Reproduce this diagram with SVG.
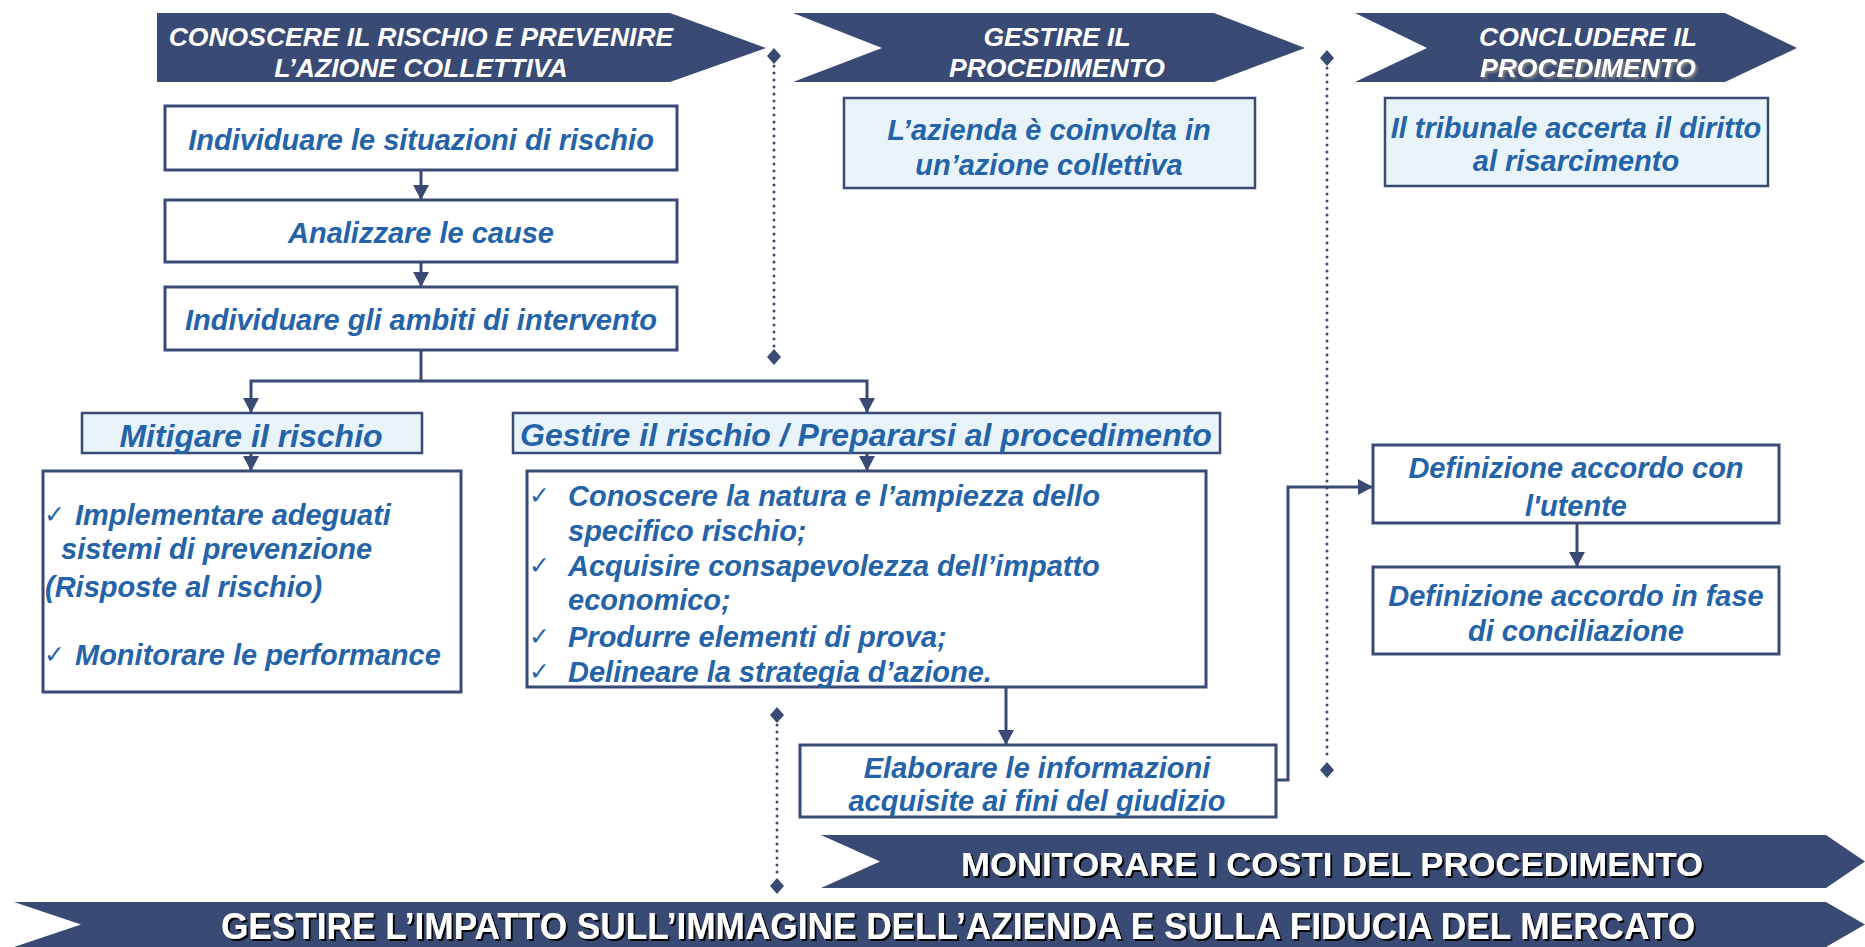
<svg xmlns="http://www.w3.org/2000/svg" width="1865" height="947" viewBox="0 0 1865 947">
<defs>
<style>
.box{fill:#ffffff;stroke:#394A74;stroke-width:3}
.lbox{fill:#E8F4FA;stroke:#394A74;stroke-width:2.5}
.t{font-family:"Liberation Sans",Arial,sans-serif;font-weight:bold;font-style:italic;font-size:29px;fill:#2563A8}
.m{text-anchor:middle}
.h{font-size:32px}
.ck{font-family:"DejaVu Sans",sans-serif;font-size:25px;fill:#2563A8}
.chev{fill:#394A74}
.ct{font-family:"Liberation Sans",Arial,sans-serif;font-weight:bold;font-style:italic;font-size:26.5px;fill:#ffffff;text-anchor:middle}
.bt{font-family:"Liberation Sans",Arial,sans-serif;font-weight:bold;fill:#ffffff;text-anchor:middle}
.conn{stroke:#394A74;stroke-width:3;fill:none}
.dot{stroke:#394A74;stroke-width:3;stroke-dasharray:0 7;stroke-linecap:round;fill:none}
.dia{fill:#394A74}
</style>
<marker id="ah" markerUnits="userSpaceOnUse" markerWidth="16" markerHeight="16" refX="15" refY="8" orient="auto">
<path d="M0,0 L15,8 L0,16 Z" fill="#394A74"/>
</marker>
<filter id="sh" x="-5%" y="-30%" width="110%" height="160%">
<feDropShadow dx="2" dy="2" stdDeviation="0" flood-color="#000000" flood-opacity="1"/>
</filter>
<filter id="sh2" x="-5%" y="-30%" width="110%" height="160%">
<feDropShadow dx="2" dy="2" stdDeviation="1" flood-color="#7f7f7f" flood-opacity="1"/>
</filter>
</defs>

<g id="phase1">
<polygon class="chev" points="157,13 670,13 766,48 670,82 157,82"/>
<text class="ct" x="421" y="46">CONOSCERE IL RISCHIO E PREVENIRE</text>
<text class="ct" x="421" y="77">L’AZIONE COLLETTIVA</text>
</g>
<g id="phase2">
<polygon class="chev" points="793,13 1214,13 1305,48 1214,82 793,82 882,48"/>
<text class="ct" x="1057" y="46">GESTIRE IL</text>
<text class="ct" x="1057" y="77">PROCEDIMENTO</text>
</g>
<g id="phase3">
<polygon class="chev" points="1355,13 1725,13 1797,48 1725,82 1355,82 1427,48"/>
<text class="ct" x="1588" y="46">CONCLUDERE IL</text>
<text class="ct" x="1588" y="77" filter="url(#sh2)">PROCEDIMENTO</text>
</g>

<g id="dividers">
<line class="dot" x1="774" y1="66" x2="774" y2="348"/>
<path class="dia" d="M774,48 L781,56 L774,64 L767,56 Z"/>
<path class="dia" d="M774,349 L781,357 L774,365 L767,357 Z"/>
<line class="dot" x1="1327" y1="68" x2="1327" y2="761"/>
<path class="dia" d="M1327,50 L1334,58 L1327,66 L1320,58 Z"/>
<path class="dia" d="M1327,762 L1334,770 L1327,778 L1320,770 Z"/>
<line class="dot" x1="777" y1="725" x2="777" y2="877"/>
<path class="dia" d="M777,707 L784,715 L777,723 L770,715 Z"/>
<path class="dia" d="M777,878 L784,886 L777,894 L770,886 Z"/>
</g>

<g id="connectors">
<line class="conn" x1="421" y1="170" x2="421" y2="200" marker-end="url(#ah)"/>
<line class="conn" x1="421" y1="262" x2="421" y2="287" marker-end="url(#ah)"/>
<path class="conn" d="M421,350 V381 H251 V413" marker-end="url(#ah)"/>
<path class="conn" d="M421,381 H867 V413" marker-end="url(#ah)"/>
<line class="conn" x1="251" y1="453" x2="251" y2="471" marker-end="url(#ah)"/>
<line class="conn" x1="867" y1="453" x2="867" y2="471" marker-end="url(#ah)"/>
<line class="conn" x1="1006" y1="687" x2="1006" y2="745" marker-end="url(#ah)"/>
<path class="conn" d="M1276,780 H1288 V487 H1373" marker-end="url(#ah)"/>
<line class="conn" x1="1577" y1="523" x2="1577" y2="567" marker-end="url(#ah)"/>
</g>

<g id="n-azienda">
<rect class="lbox" x="844" y="98" width="411" height="90"/>
<text class="t m" x="1049" y="140">L’azienda è coinvolta in</text>
<text class="t m" x="1049" y="175">un’azione collettiva</text>
</g>
<g id="n-tribunale">
<rect class="lbox" x="1385" y="98" width="383" height="88"/>
<text class="t m" x="1576" y="138">Il tribunale accerta il diritto</text>
<text class="t m" x="1576" y="171">al risarcimento</text>
</g>

<g id="n-individuare">
<rect class="box" x="165" y="106" width="512" height="64"/>
<text class="t m" x="421" y="150">Individuare le situazioni di rischio</text>
</g>
<g id="n-analizzare">
<rect class="box" x="165" y="200" width="512" height="62"/>
<text class="t m" x="421" y="243">Analizzare le cause</text>
</g>
<g id="n-ambiti">
<rect class="box" x="165" y="287" width="512" height="63"/>
<text class="t m" x="421" y="330">Individuare gli ambiti di intervento</text>
</g>

<g id="n-mitigare">
<rect class="lbox" x="82" y="413" width="340" height="40"/>
<text class="t h m" x="251" y="447">Mitigare il rischio</text>
</g>
<g id="n-gestire">
<rect class="lbox" x="513" y="413" width="707" height="40"/>
<text class="t h m" x="866" y="446">Gestire il rischio / Prepararsi al procedimento</text>
</g>

<g id="n-mitigare-list">
<rect class="box" x="43" y="471" width="418" height="221"/>
<text class="ck" x="44" y="523">✓</text>
<text class="t" x="75" y="525">Implementare adeguati</text>
<text class="t" x="61" y="559">sistemi di prevenzione</text>
<text class="t" x="45" y="597">(Risposte al rischio)</text>
<text class="ck" x="44" y="663">✓</text>
<text class="t" x="75" y="665">Monitorare le performance</text>
</g>

<g id="n-gestire-list">
<rect class="box" x="527" y="471" width="679" height="216"/>
<text class="ck" x="529" y="504">✓</text>
<text class="t" x="568" y="506">Conoscere la natura e l’ampiezza dello</text>
<text class="t" x="568" y="541">specifico rischio;</text>
<text class="ck" x="529" y="574">✓</text>
<text class="t" x="568" y="576">Acquisire consapevolezza dell’impatto</text>
<text class="t" x="568" y="610">economico;</text>
<text class="ck" x="529" y="645">✓</text>
<text class="t" x="568" y="647">Produrre elementi di prova;</text>
<text class="ck" x="529" y="680">✓</text>
<text class="t" x="568" y="682">Delineare la strategia d’azione.</text>
</g>

<g id="n-elaborare">
<rect class="box" x="800" y="745" width="476" height="72"/>
<text class="t m" x="1037" y="778">Elaborare le informazioni</text>
<text class="t m" x="1037" y="811">acquisite ai fini del giudizio</text>
</g>

<g id="n-accordo-utente">
<rect class="box" x="1373" y="445" width="406" height="78"/>
<text class="t m" x="1576" y="478">Definizione accordo con</text>
<text class="t m" x="1576" y="516">l'utente</text>
</g>
<g id="n-accordo-conciliazione">
<rect class="box" x="1373" y="567" width="406" height="87"/>
<text class="t m" x="1576" y="606">Definizione accordo in fase</text>
<text class="t m" x="1576" y="641">di conciliazione</text>
</g>

<g id="bar-costi">
<polygon class="chev" points="821,835 1826,835 1865,861.5 1826,888 821,888 880,861.5"/>
<text class="bt" x="1332" y="876" font-size="33" textLength="742" lengthAdjust="spacingAndGlyphs" filter="url(#sh)">MONITORARE I COSTI DEL PROCEDIMENTO</text>
</g>
<g id="bar-immagine">
<polygon class="chev" points="14,902 1826,902 1865,924.5 1826,947 14,947 81,924.5"/>
<text class="bt" x="958" y="939" font-size="36" textLength="1474" lengthAdjust="spacingAndGlyphs" filter="url(#sh)">GESTIRE L’IMPATTO SULL’IMMAGINE DELL’AZIENDA E SULLA FIDUCIA DEL MERCATO</text>
</g>
</svg>
